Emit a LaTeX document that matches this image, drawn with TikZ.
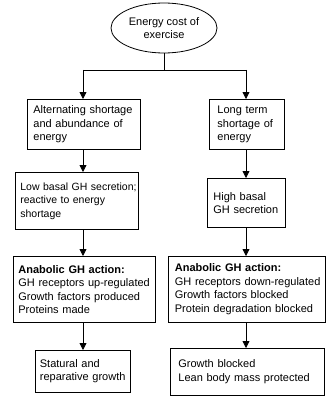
\documentclass[tikz,border=0pt]{standalone}
\usepackage{fontspec}
\setmainfont{Liberation Sans}
\usetikzlibrary{shapes.geometric,arrows.meta}
\newcommand\nohyphs{\hyphenpenalty=10000\relax\exhyphenpenalty=10000\relax}
\begin{document}
\begin{tikzpicture}[x=1pt,y=-1pt,
  box/.style={draw,line width=0.8pt,anchor=north west,align=left,inner ysep=0pt,
    font=\fontsize{11}{13.5}\selectfont,execute at begin node=\nohyphs},
  arr/.style={line width=0.8pt,-{Triangle[length=7pt,width=7pt]}},
  ln/.style={line width=0.8pt}]
\useasboundingbox (0,0) rectangle (327,396);
\node[draw,ellipse,line width=0.8pt,minimum width=106pt,minimum height=50pt,inner sep=0pt,align=center,
  font=\fontsize{11}{13.5}\selectfont] (e) at (164,28) {Energy cost of\\exercise};
\node[box,minimum width=113pt,minimum height=50pt,text width=101pt,inner xsep=6pt] (a1) at (27,99)
  {Alternating~shortage\\and~abundance~of\\energy};
\node[box,minimum width=75pt,minimum height=50pt,text width=59pt,inner xsep=8pt] (b1) at (209,99)
  {Long~term\\shortage~of\\energy};
\node[box,minimum width=123pt,minimum height=57pt,text width=113pt,inner xsep=5pt,
  font=\fontsize{10.5}{13.5}\selectfont] (a2) at (15,172)
  {Low~basal~GH~secretion;\\reactive~to~energy\\shortage};
\node[box,minimum width=78pt,minimum height=49pt,text width=66pt,inner xsep=6pt] (b2) at (207,178)
  {High~basal\\GH~secretion};
\node[box,minimum width=142pt,minimum height=66pt,text width=132pt,inner xsep=5pt] (a3) at (13,256)
  {\textbf{Anabolic~GH~action:}\\GH~receptors~up-regulated\\Growth~factors~produced\\Proteins~made};
\node[box,minimum width=157pt,minimum height=66pt,text width=144pt,inner xsep=6.5pt] (b3) at (168,256)
  {\textbf{Anabolic~GH~action:}\\GH~receptors~down-regulated\\Growth~factors~blocked\\Protein~degradation~blocked};
\node[box,minimum width=95pt,minimum height=42pt,text width=86pt,inner xsep=4.5pt] (a4) at (35,350)
  {Statural~and\\reparative~growth};
\node[box,minimum width=154pt,minimum height=47pt,text width=138pt,inner xsep=8pt] (b4) at (170,348)
  {Growth~blocked\\Lean~body~mass~protected};
\coordinate (j) at (164,70);
\coordinate (jl) at (83,70);
\coordinate (jr) at (246,70);
\draw[ln] (e.south) -- (j);
\draw[ln] (jl) -- (jr);
\draw[arr] (jl) -- (jl |- a1.north);
\draw[arr] (jr) -- (jr |- b1.north);
\draw[arr] (jl |- a1.south) -- (jl |- a2.north);
\draw[arr] (jr |- b1.south) -- (jr |- b2.north);
\draw[arr] (jl |- a2.south) -- (jl |- a3.north);
\draw[arr] (jr |- b2.south) -- (jr |- b3.north);
\draw[arr] (jl |- a3.south) -- (jl |- a4.north);
\draw[arr] (jr |- b3.south) -- (jr |- b4.north);
\end{tikzpicture}
\end{document}
